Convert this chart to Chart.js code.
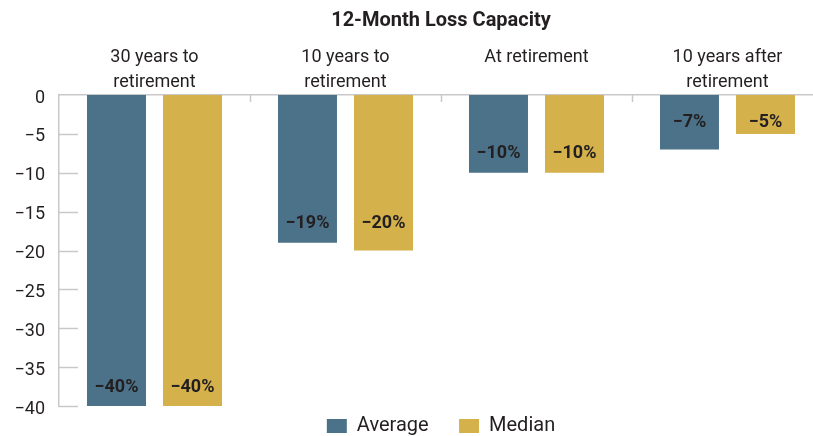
<!DOCTYPE html>
<html>
<head>
<meta charset="utf-8">
<script src="https://cdn.jsdelivr.net/npm/chart.js@4"></script>
<style>
  html, body { margin: 0; padding: 0; background: #fff; overflow: hidden; }
  #wrap { width: 813px; height: 436px; overflow: hidden; }
</style>
</head>
<body>
<div id="wrap"><canvas id="chart" width="830" height="436"></canvas></div>
<script>
// chart data
const categories = [
    ['30 years to', 'retirement'],
    ['10 years to', 'retirement'],
    ['At retirement', ''],
    ['10 years after', 'retirement']
];
const averageValues = [-40, -19, -10, -7];
const medianValues = [-40, -20, -10, -5];
const yTicks = [0, -5, -10, -15, -20, -25, -30, -35, -40];

const FONT = 'Roboto, "DejaVu Sans", sans-serif';
const AXIS_GREY = '#c9c9c9';
const TEXT = '#231f20';

function minusLabel(v) {
    return v < 0 ? '\u2212' + Math.abs(v) : String(v);
}

// short tick marks drawn inward from the axes
const innerTicks = {
    id: 'innerTicks',
    afterDraw(chart) {
        const ctx = chart.ctx;
        const x = chart.scales.x;
        const y = chart.scales.y;
        ctx.save();
        ctx.strokeStyle = AXIS_GREY;
        ctx.lineWidth = 1.5;
        ctx.beginPath();
        yTicks.forEach(t => {
            if (t === 0) return;
            const py = Math.round(y.getPixelForValue(t)) + 0.5;
            ctx.moveTo(y.right, py);
            ctx.lineTo(y.right + 19, py);
        });
        const step = (x.right - x.left) / categories.length;
        for (let i = 1; i < categories.length; i++) {
            const px = Math.round(x.left + i * step) + 0.5;
            ctx.moveTo(px, x.bottom);
            ctx.lineTo(px, x.bottom + 7);
        }
        ctx.stroke();
        ctx.restore();
    }
};

// percent labels inside the bars
const barLabels = {
    id: 'barLabels',
    afterDatasetsDraw(chart) {
        const ctx = chart.ctx;
        const metas = [chart.getDatasetMeta(0), chart.getDatasetMeta(1)];
        ctx.save();
        ctx.font = 'bold 18px ' + FONT;
        ctx.fillStyle = TEXT;
        ctx.textAlign = 'center';
        ctx.textBaseline = 'middle';
        categories.forEach((c, i) => {
            const bars = metas.map(m => m.data[i]);
            const shallow = Math.min(bars[0].y, bars[1].y);
            const ly = Math.max(shallow - 19, bars[0].base + 27);
            bars.forEach((bar, d) => {
                const v = chart.data.datasets[d].data[i];
                ctx.fillText(minusLabel(v) + '%', bar.x, ly);
            });
        });
        ctx.restore();
    }
};

new Chart(document.getElementById('chart'), {
    type: 'bar',
    data: {
        labels: categories,
        datasets: [
            {
                label: 'Average',
                data: averageValues,
                backgroundColor: '#4b7289',
                barPercentage: 0.776,
                categoryPercentage: 0.796
            },
            {
                label: 'Median',
                data: medianValues,
                backgroundColor: '#d4b14b',
                barPercentage: 0.776,
                categoryPercentage: 0.796
            }
        ]
    },
    options: {
        responsive: false,
        animation: false,
        layout: { padding: { left: 0, right: 7, top: 0, bottom: -10 } },
        plugins: {
            tooltip: { enabled: false },
            title: {
                display: true,
                text: '12-Month Loss Capacity',
                fullSize: false,
                color: TEXT,
                font: { family: FONT, size: 20, weight: 'bold', lineHeight: 1.2 },
                padding: { top: 9, bottom: 0 }
            },
            legend: {
                position: 'bottom',
                fullSize: false,
                labels: {
                    boxWidth: 20,
                    boxHeight: 14,
                    padding: 10,
                    color: TEXT,
                    font: { family: FONT, size: 20, lineHeight: 1 },
                    generateLabels(chart) {
                        const items = Chart.defaults.plugins.legend.labels.generateLabels(chart);
                        items[0].text += '\u2003';
                        return items;
                    }
                }
            }
        },
        scales: {
            x: {
                position: 'top',
                grid: { display: false, drawTicks: false },
                border: { display: true, color: AXIS_GREY, width: 1.5 },
                ticks: {
                    color: TEXT,
                    padding: 0,
                    maxRotation: 0,
                    font: { family: FONT, size: 18, lineHeight: '25px' }
                },
                afterFit(scale) { scale.height = 62; }
            },
            y: {
                min: -40,
                max: 0,
                grid: { display: false, drawTicks: false },
                border: { display: true, color: AXIS_GREY, width: 1.5 },
                ticks: {
                    stepSize: 5,
                    color: TEXT,
                    padding: 14,
                    labelOffset: 3,
                    font: { family: FONT, size: 18 },
                    callback: v => minusLabel(v)
                },
                afterFit(scale) { scale.width = 59; }
            }
        }
    },
    plugins: [innerTicks, barLabels]
});
</script>
</body>
</html>
